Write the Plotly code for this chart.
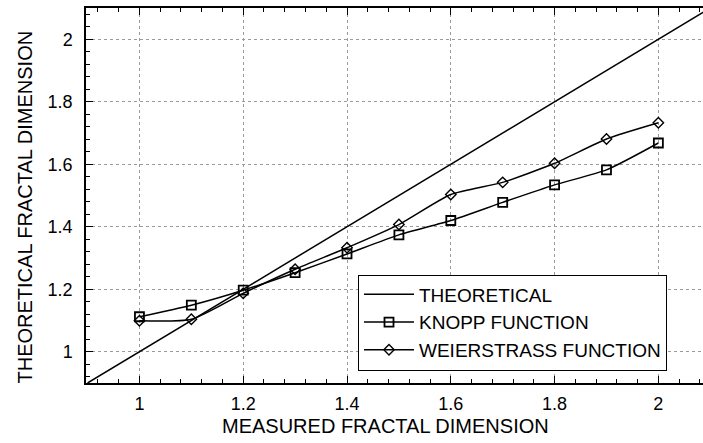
import plotly.graph_objects as go

measured = [1.0, 1.1, 1.2, 1.3, 1.4, 1.5, 1.6, 1.7, 1.8, 1.9, 2.0]
knopp = [1.112, 1.149, 1.197, 1.253, 1.313, 1.374, 1.420, 1.478, 1.534, 1.582, 1.668]
weierstrass = [1.099, 1.104, 1.187, 1.264, 1.333, 1.407, 1.503, 1.542, 1.603, 1.681, 1.733]
theory_x = [0.9, 2.1]
theory_y = [0.9, 2.1]
tick_vals = [1, 1.2, 1.4, 1.6, 1.8, 2]
tick_text = ["1", "1.2", "1.4", "1.6", "1.8", "2"]

FONT = "Liberation Sans, Arial, sans-serif"

fig = go.Figure()
fig.add_trace(go.Scatter(x=theory_x, y=theory_y, mode="lines", name="THEORETICAL",
                         line=dict(color="black", width=1.5)))
fig.add_trace(go.Scatter(x=measured, y=knopp, mode="lines+markers", name="KNOPP FUNCTION",
                         line=dict(color="black", width=1.5, shape="spline", smoothing=0.6),
                         marker=dict(symbol="square-open", size=9, color="black",
                                     line=dict(width=1.8, color="black"))))
fig.add_trace(go.Scatter(x=measured, y=weierstrass, mode="lines+markers", name="WEIERSTRASS FUNCTION",
                         line=dict(color="black", width=1.5, shape="spline", smoothing=0.6),
                         marker=dict(symbol="diamond-open", size=8, color="black",
                                     line=dict(width=1.4, color="black"))))

axis_common = dict(
    tickvals=tick_vals, ticktext=tick_text,
    ticks="inside", ticklen=7, tickwidth=1, tickcolor="black",
    showline=True, linecolor="black", linewidth=1.5,
    showgrid=True, gridcolor="#9a9a9a", gridwidth=1, griddash="dot",
    zeroline=False,
    tickfont=dict(family=FONT, size=18, color="black"),
    minor=dict(dtick=0.04, tick0=1, ticks="inside", ticklen=4, tickcolor="black", showgrid=False),
)

fig.update_xaxes(range=[0.897, 2.086], mirror="ticks", ticklabelstandoff=4, **axis_common)
fig.update_yaxes(range=[0.9, 2.1], mirror=False, ticklabelstandoff=8, **axis_common)

fig.update_layout(
    width=703, height=443,
    margin=dict(l=86, r=0, t=8, b=60),
    plot_bgcolor="white", paper_bgcolor="white",
    font=dict(family=FONT, color="black"),
    showlegend=True,
    legend=dict(x=(358 - 86) / 617, y=(382.5 - 274) / 375, xanchor="left", yanchor="top",
                bgcolor="white", bordercolor="black", borderwidth=1,
                font=dict(family=FONT, size=19, color="black"),
                itemwidth=50, tracegroupgap=0),
    annotations=[
        dict(text="MEASURED FRACTAL DIMENSION", xref="paper", yref="paper",
             x=(385 - 86) / 617, y=-(425 - 382.5) / 375, xanchor="center", yanchor="middle",
             showarrow=False, font=dict(family=FONT, size=20, color="black")),
        dict(text="THEORETICAL FRACTAL DIMENSION", xref="paper", yref="paper",
             x=-(86 - 24) / 617, y=(382.5 - 207) / 375, xanchor="center", yanchor="middle",
             textangle=-90, showarrow=False, font=dict(family=FONT, size=20, color="black")),
    ],
)

fig.write_html("out.html", config={"displayModeBar": False},
               post_script="document.body.style.margin='0';document.body.style.overflow='hidden';")
